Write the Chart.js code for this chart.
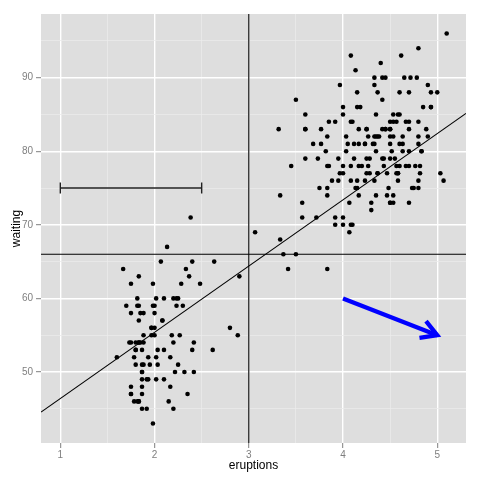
<!DOCTYPE html>
<html>
<head>
<meta charset="utf-8">
<script src="https://cdn.jsdelivr.net/npm/chart.js@4/dist/chart.umd.min.js"></script>
<style>
  html, body { margin: 0; padding: 0; background: #fff; }
  #wrap { width: 480px; height: 480px; }
</style>
</head>
<body>
<div id="wrap"><canvas id="faithful" width="480" height="480"></canvas></div>
<script>
// old faithful: eruption length (min) and waiting time (min)
var eruptions = [3.600,1.800,3.333,2.283,4.533,2.883,4.700,3.600,1.950,4.350,1.833,3.917,4.200,1.750,4.700,2.167,1.750,4.800,1.600,4.250,1.800,1.750,3.450,3.067,4.533,3.600,1.967,4.083,3.850,4.433,4.300,4.467,3.367,4.033,3.833,2.017,1.867,4.833,1.833,4.783,4.350,1.883,4.567,1.750,4.533,3.317,3.833,2.100,4.633,2.000,4.800,4.716,1.833,4.833,1.733,4.883,3.717,1.667,4.567,4.317,2.233,4.500,1.750,4.800,1.817,4.400,4.167,4.700,2.067,4.700,4.033,1.967,4.500,4.000,1.983,5.067,2.017,4.567,3.883,3.600,4.133,4.333,4.100,2.633,4.067,4.933,3.950,4.517,2.167,4.000,2.200,4.333,1.867,4.817,1.833,4.300,4.667,3.750,1.867,4.900,2.483,4.367,2.100,4.500,4.050,1.867,4.700,1.783,4.850,3.683,4.733,2.300,4.900,4.417,1.700,4.633,2.317,4.600,1.817,4.417,2.617,4.067,4.250,1.967,4.600,3.767,1.917,4.500,2.267,4.650,1.867,4.167,2.800,4.333,1.833,4.383,1.883,4.933,2.033,3.733,4.233,2.233,4.533,4.817,4.333,1.983,4.633,2.017,5.100,1.800,5.033,4.000,2.400,4.600,3.567,4.000,4.500,4.083,1.800,3.967,2.200,4.150,2.000,3.833,3.500,4.583,2.367,5.000,1.933,4.617,1.917,2.083,4.583,3.333,4.167,4.333,4.500,2.417,4.000,4.167,1.883,4.583,4.250,3.767,2.033,4.433,4.083,1.833,4.417,2.183,4.800,1.833,4.800,4.100,3.966,4.233,3.500,4.366,2.250,4.667,2.100,4.350,4.133,1.867,4.600,1.783,4.367,3.850,1.933,4.500,2.383,4.700,1.867,3.833,3.417,4.233,2.400,4.800,2.000,4.150,1.867,4.267,1.750,4.483,4.000,4.117,4.083,4.267,3.917,4.550,4.083,2.417,4.183,2.217,4.450,1.883,1.850,4.283,3.950,2.333,4.150,2.350,4.933,2.900,4.583,3.833,2.083,4.367,2.133,4.350,2.200,4.450,3.567,4.500,4.150,3.817,3.917,4.450,2.000,4.283,4.767,4.533,1.850,4.250,1.983,2.250,4.750,4.117,2.150,4.417,1.817,4.467];
var waiting = [79,54,74,62,85,55,88,85,51,85,54,84,78,47,83,52,62,84,52,79,51,47,78,69,74,83,55,76,78,79,73,77,66,80,74,52,48,80,59,90,80,58,84,58,73,83,64,53,82,59,75,90,54,80,54,83,71,64,77,81,59,84,48,82,60,92,78,78,65,73,82,56,79,71,62,76,60,78,76,83,75,82,70,65,73,88,76,80,48,86,60,90,50,78,63,72,84,75,51,82,62,88,49,83,81,47,84,52,86,81,75,59,89,79,59,81,50,85,59,87,53,69,77,56,88,81,45,82,55,90,45,83,56,89,46,82,51,86,53,79,81,60,82,77,76,59,80,49,96,53,77,77,65,81,71,70,81,93,53,89,45,86,58,78,66,76,63,88,52,93,49,57,77,68,81,81,73,50,85,74,55,77,83,83,51,78,84,46,83,55,81,57,76,84,77,81,87,77,51,78,60,82,91,53,78,46,77,84,49,83,71,80,49,75,64,76,53,94,55,76,50,82,54,75,78,79,78,78,70,79,70,54,86,50,90,54,54,77,79,64,75,47,86,63,85,82,57,82,67,74,54,83,73,73,88,80,71,83,56,79,78,84,58,83,43,60,75,81,46,90,46,74];

// tick labels
var xTicks = [1, 2, 3, 4, 5];
var yTicks = [50, 60, 70, 80, 90];

// reference lines / annotations
var vlineX = 3;
var hlineY = 66;
var ablineIntercept = 37.4;
var ablineSlope = 9;
var errX = [1, 2.5];      // horizontal error bar xmin, xmax
var errY = 75;
var errCap = 0.75;        // half height of the bar caps
var arrowX = [4, 5];
var arrowY = [60, 55];

// axis limits (data range + 5%)
var xMin = 0.795, xMax = 5.305;
var yMin = 40.35, yMax = 98.65;

var pts = [];
for (var i = 0; i < eruptions.length; i++) {
    pts.push({x: eruptions[i], y: waiting[i]});
}

function withMinor(major, step) {
    var out = [];
    for (var i = 0; i < major.length; i++) {
        out.push(major[i] - step);
        out.push(major[i]);
    }
    out.push(major[major.length - 1] + step);
    return out;
}
var xAll = withMinor(xTicks, 0.5).filter(function (v) { return v > xMin && v < xMax; });
var yAll = withMinor(yTicks, 5).filter(function (v) { return v > yMin && v < yMax; });

function isMajor(list, v) { return list.indexOf(v) >= 0; }

/*---------------- panel background ----------------*/
var panelBg = {
    id: 'panelBg',
    beforeDraw: function (chart) {
        var a = chart.chartArea, ctx = chart.ctx;
        ctx.save();
        ctx.fillStyle = '#DEDEDE';
        ctx.fillRect(a.left, a.top, a.right - a.left, a.bottom - a.top);
        ctx.restore();
    }
};

/*---------------- open arrow head on the blue segment ----------------*/
var arrowHead = {
    id: 'arrowHead',
    afterDatasetsDraw: function (chart) {
        var meta = chart.getDatasetMeta(6);
        if (!meta || meta.data.length < 2) return;
        var p0 = meta.data[0], p1 = meta.data[1];
        var ang = Math.atan2(p1.y - p0.y, p1.x - p0.x);
        var len = 18, spread = Math.PI / 6;
        var ctx = chart.ctx;
        ctx.save();
        ctx.strokeStyle = '#0000FF';
        ctx.lineWidth = 4.3;
        ctx.lineCap = 'butt';
        ctx.lineJoin = 'miter';
        ctx.beginPath();
        ctx.moveTo(p1.x - len * Math.cos(ang - spread), p1.y - len * Math.sin(ang - spread));
        ctx.lineTo(p1.x, p1.y);
        ctx.lineTo(p1.x - len * Math.cos(ang + spread), p1.y - len * Math.sin(ang + spread));
        ctx.stroke();
        ctx.restore();
    }
};

function lineSet(data, color, width, order) {
    return {
        type: 'line',
        data: data,
        borderColor: color,
        borderWidth: width,
        pointRadius: 0,
        fill: false,
        tension: 0,
        order: order
    };
}

var ctx = document.getElementById('faithful').getContext('2d');
new Chart(ctx, {
    type: 'scatter',
    data: {
        datasets: [
            {
                data: pts,
                backgroundColor: '#000',
                borderColor: '#000',
                borderWidth: 0,
                pointRadius: 2.3,
                order: 10
            },
            lineSet([{x: vlineX, y: yMin}, {x: vlineX, y: yMax}], '#000', 1.1, 9),
            lineSet([{x: xMin, y: hlineY}, {x: xMax, y: hlineY}], '#000', 1.1, 8),
            lineSet([{x: xMin, y: ablineIntercept + ablineSlope * xMin},
                     {x: xMax, y: ablineIntercept + ablineSlope * xMax}], '#000', 1.1, 7),
            lineSet([{x: errX[0], y: errY}, {x: errX[1], y: errY}], '#222', 1.4, 6),
            lineSet([{x: errX[0], y: errY - errCap}, {x: errX[0], y: errY + errCap}, {x: NaN, y: NaN},
                     {x: errX[1], y: errY - errCap}, {x: errX[1], y: errY + errCap}], '#222', 1.4, 5),
            lineSet([{x: arrowX[0], y: arrowY[0]}, {x: arrowX[1], y: arrowY[1]}], '#0000FF', 4.3, 1)
        ]
    },
    options: {
        responsive: false,
        animation: false,
        events: [],
        layout: { padding: { top: 14, right: 14, left: 0, bottom: 0 } },
        plugins: {
            legend: { display: false },
            tooltip: { enabled: false }
        },
        scales: {
            x: {
                type: 'linear',
                min: xMin,
                max: xMax,
                afterBuildTicks: function (axis) {
                    axis.ticks = xAll.map(function (v) { return {value: v}; });
                },
                afterFit: function (axis) { axis.height = 37; },
                border: { display: false },
                grid: {
                    color: function (c) { return isMajor(xTicks, c.tick.value) ? '#FFFFFF' : '#EBEBEB'; },
                    lineWidth: function (c) { return isMajor(xTicks, c.tick.value) ? 1.4 : 0.8; },
                    tickColor: function (c) { return isMajor(xTicks, c.tick.value) ? '#7F7F7F' : 'rgba(0,0,0,0)'; },
                    tickLength: 5,
                    tickWidth: 1
                },
                ticks: {
                    autoSkip: false,
                    maxRotation: 0,
                    padding: 1,
                    color: '#7F7F7F',
                    font: { family: 'Liberation Sans, Arial, sans-serif', size: 10 },
                    callback: function (v) { return isMajor(xTicks, v) ? String(v) : ''; }
                },
                title: {
                    display: true,
                    text: 'eruptions',
                    color: '#000',
                    font: { family: 'Liberation Sans, Arial, sans-serif', size: 12 },
                    padding: { top: 0, bottom: 7 }
                }
            },
            y: {
                type: 'linear',
                min: yMin,
                max: yMax,
                afterBuildTicks: function (axis) {
                    axis.ticks = yAll.map(function (v) { return {value: v}; });
                },
                afterFit: function (axis) { axis.width = 41; },
                border: { display: false },
                grid: {
                    color: function (c) { return isMajor(yTicks, c.tick.value) ? '#FFFFFF' : '#EBEBEB'; },
                    lineWidth: function (c) { return isMajor(yTicks, c.tick.value) ? 1.4 : 0.8; },
                    tickColor: function (c) { return isMajor(yTicks, c.tick.value) ? '#7F7F7F' : 'rgba(0,0,0,0)'; },
                    tickLength: 5,
                    tickWidth: 1
                },
                ticks: {
                    autoSkip: false,
                    padding: 3,
                    color: '#7F7F7F',
                    font: { family: 'Liberation Sans, Arial, sans-serif', size: 10 },
                    callback: function (v) { return isMajor(yTicks, v) ? String(v) : ''; }
                },
                title: {
                    display: true,
                    text: 'waiting',
                    color: '#000',
                    font: { family: 'Liberation Sans, Arial, sans-serif', size: 12 },
                    padding: { top: 9, bottom: 0 }
                }
            }
        }
    },
    plugins: [panelBg, arrowHead]
});
</script>
</body>
</html>
